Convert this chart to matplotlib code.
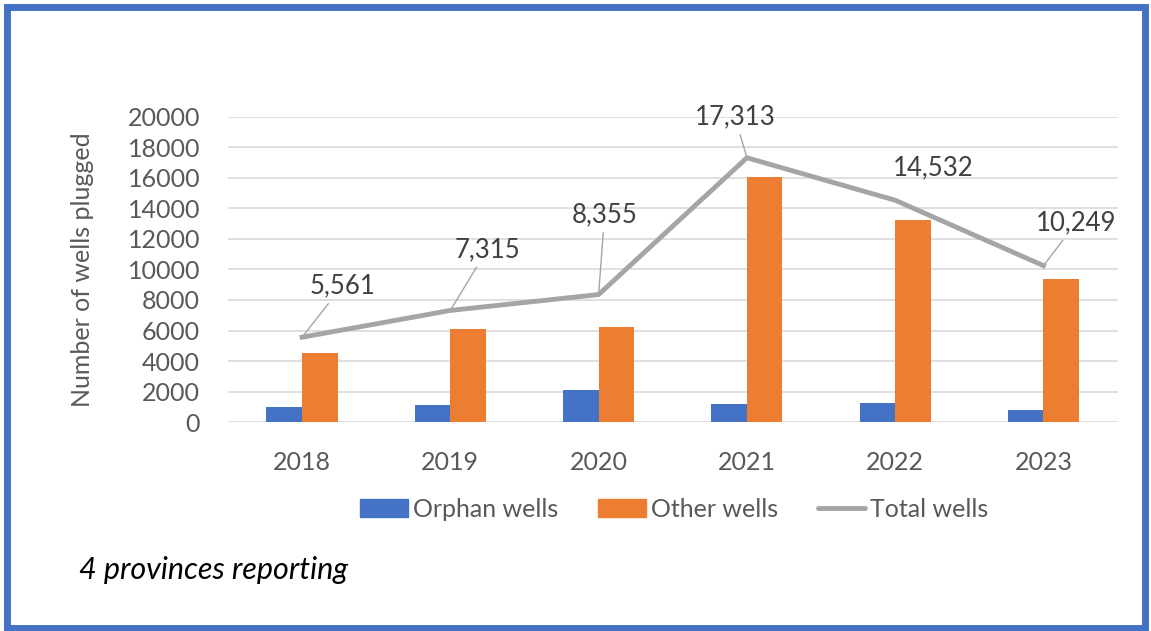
import matplotlib.pyplot as plt
import numpy as np
from matplotlib.patches import Rectangle
from matplotlib.lines import Line2D

years = ["2018", "2019", "2020", "2021", "2022", "2023"]
orphan = [960, 1120, 2080, 1210, 1230, 790]
other = [4530, 6120, 6200, 16040, 13270, 9400]
total = [5561, 7315, 8355, 17313, 14532, 10249]
total_labels = ["5,561", "7,315", "8,355", "17,313", "14,532", "10,249"]

plt.rcParams["font.family"] = ["Lato", "DejaVu Sans"]

blue = "#4472C4"
orange = "#ED7D31"
gray = "#A5A5A5"
txt = "#595959"

fig = plt.figure(figsize=(11.51, 6.31), dpi=100)
ax = fig.add_axes([0.198, 0.331, 0.773, 0.484])

x = np.arange(len(years))
w = 0.24
ax.bar(x - w / 2, orphan, w, color=blue, label="Orphan wells", zorder=2)
ax.bar(x + w / 2, other, w, color=orange, label="Other wells", zorder=2)
ax.plot(x, total, color=gray, linewidth=3.5, solid_joinstyle="miter",
        label="Total wells", zorder=3)

# data labels with leader lines (offsets in pixels)
offsets = [(40, 51), (37, 61), (6, 80), (-12, 41), (38, 32), (33, 43)]
for i, (lab, off) in enumerate(zip(total_labels, offsets)):
    arrow = None if i == 4 else dict(arrowstyle="-", color=gray, lw=1,
                                     shrinkA=2, shrinkB=0)
    ax.annotate(lab, (x[i], total[i]), xytext=off, textcoords="offset pixels",
                ha="center", va="center", fontsize=18.5, color="#404040",
                arrowprops=arrow, zorder=4)

ax.set_xlim(-0.5, 5.5)
ax.set_ylim(0, 20000)
ax.set_yticks(range(0, 20001, 2000))
ax.set_xticks(x)
ax.set_xticklabels(years)
ax.tick_params(axis="both", length=0, labelsize=18, colors=txt)
ax.tick_params(axis="x", pad=21)
ax.tick_params(axis="y", pad=20)
ax.grid(axis="y", color="#D9D9D9", linewidth=1.2, zorder=0)
ax.set_axisbelow(True)
for s in ax.spines.values():
    s.set_visible(False)
ax.set_ylabel("Number of wells plugged", fontsize=18, color=txt, labelpad=24)

handles = [
    Rectangle((0, 0), 1, 1, color=blue),
    Rectangle((0, 0), 1, 1, color=orange),
    Line2D([0], [0], color=gray, linewidth=3.5, solid_capstyle="round"),
]
fig.legend(handles, ["Orphan wells", "Other wells", "Total wells"],
           loc="center", bbox_to_anchor=(0.586, 0.193), ncol=3, frameon=False,
           fontsize=18, labelcolor=txt, handlelength=1.9, handleheight=0.7,
           handletextpad=0.2, columnspacing=1.6)

fig.text(0.069, 0.097, "4 provinces reporting", fontsize=22, style="italic",
         color="black", va="center", ha="left")

fig.patches.append(Rectangle((6.5 / 1151, 3.5 / 631), 1138 / 1151, 621 / 631,
                             transform=fig.transFigure, fill=False,
                             edgecolor=blue, linewidth=5))

fig.savefig("out.png", dpi=100)
